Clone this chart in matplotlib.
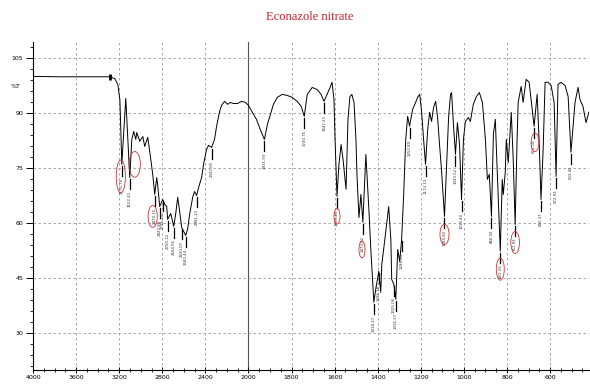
import numpy as np
import matplotlib
matplotlib.use('Agg')
import matplotlib.pyplot as plt
from matplotlib.patches import Ellipse
from matplotlib.ticker import FixedLocator, NullFormatter

# IR spectrum: wavenumber (cm-1) and %T
wavenumber = [4000, 3750, 3472, 3287, 3241, 3213, 3194, 3185, 3176, 3157,
              3139, 3120, 3102, 3083, 3065, 3046, 3037, 3009, 2981, 2963,
              2935, 2907, 2889, 2870, 2852, 2843, 2824, 2796, 2778, 2759,
              2750, 2722, 2694, 2676, 2657, 2639, 2620, 2602, 2583, 2565,
              2546, 2518, 2500, 2481, 2463, 2435, 2417, 2389, 2370, 2342,
              2315, 2296, 2268, 2250, 2222, 2194, 2167, 2139, 2102, 2065,
              2028, 2000, 1982, 1963, 1945, 1926, 1912, 1898, 1884, 1866,
              1843, 1820, 1797, 1774, 1755, 1741, 1727, 1704, 1681, 1663,
              1649, 1635, 1621, 1612, 1603, 1598, 1589, 1580, 1570, 1561,
              1547, 1538, 1529, 1520, 1510, 1501, 1496, 1487, 1478, 1469,
              1455, 1441, 1432, 1418, 1409, 1395, 1386, 1381, 1367, 1349,
              1339, 1335, 1325, 1316, 1307, 1298, 1289, 1279, 1270, 1261,
              1252, 1238, 1224, 1215, 1205, 1196, 1187, 1178, 1168, 1159,
              1150, 1141, 1131, 1122, 1113, 1104, 1090, 1081, 1071, 1062,
              1057, 1048, 1039, 1030, 1020, 1011, 1002, 993, 979, 970,
              956, 942, 928, 914, 900, 891, 882, 872, 863, 854,
              849, 840, 831, 822, 817, 808, 803, 794, 780, 771,
              762, 753, 748, 734, 725, 711, 697, 688, 674, 660,
              651, 642, 632, 623, 609, 595, 581, 572, 563, 549,
              530, 516, 503, 484, 470, 461, 447, 433, 420]
transmittance = [100.1, 100.0, 100.0, 100.0, 99.5, 97.9, 93.8, 85.6, 76.1, 85.6,
                 94.1, 82.9, 72.5, 82.9, 85.1, 82.9, 84.8, 82.4, 83.7, 81.0,
                 83.5, 77.5, 73.4, 67.9, 72.5, 70.6, 64.6, 66.5, 65.2, 64.6,
                 61.1, 62.7, 59.2, 62.5, 67.1, 63.3, 58.9, 57.8, 56.7, 58.4,
                 62.5, 67.1, 68.7, 67.6, 69.8, 72.5, 76.1, 80.2, 81.3, 80.7,
                 82.9, 86.5, 90.5, 92.2, 93.3, 92.5, 93.0, 92.7, 92.7, 93.3,
                 93.0, 92.2, 90.3, 88.4, 85.6, 82.9, 87.0, 89.7, 92.5, 94.4,
                 95.2, 94.9, 94.4, 93.3, 91.9, 89.2, 95.2, 97.1, 96.5, 95.2,
                 93.3, 95.2, 97.1, 98.5, 93.8, 82.9, 67.4, 76.1, 81.5, 77.5,
                 69.3, 88.4, 94.6, 95.2, 93.0, 82.9, 72.8, 61.6, 67.9, 60.3,
                 78.8, 63.8, 52.9, 38.5, 42.1, 46.9, 41.2, 48.8, 55.6, 64.6,
                 55.6, 44.7, 43.4, 39.3, 52.9, 49.6, 55.6, 68.5, 82.9, 89.2,
                 86.5, 91.1, 93.0, 94.4, 95.2, 90.3, 82.9, 76.1, 85.6, 90.3,
                 87.8, 91.6, 93.3, 88.9, 81.5, 74.7, 61.9, 74.7, 88.9, 95.2,
                 95.7, 86.5, 78.8, 87.5, 81.5, 66.5, 82.9, 87.8, 88.9, 87.8,
                 92.5, 94.6, 95.7, 93.0, 82.9, 72.0, 73.4, 61.9, 84.3, 88.4,
                 80.2, 66.5, 52.4, 72.0, 67.9, 73.9, 82.9, 76.6, 90.3, 77.5,
                 59.7, 82.9, 93.0, 97.4, 93.0, 99.3, 98.5, 93.8, 86.5, 95.2,
                 82.9, 66.5, 80.2, 98.5, 98.5, 97.6, 93.0, 72.8, 97.9, 98.5,
                 97.6, 94.6, 79.4, 93.0, 97.1, 93.8, 91.9, 87.5, 90.3]

# peak labels (position, %T at the dip, text)
peak_wn = [3176, 3102, 2870, 2824, 2796, 2750, 2694, 2620, 2583, 2481,
           2342, 1926, 1741, 1649, 1589, 1469, 1418, 1395, 1325, 1316,
           1289, 1252, 1178, 1090, 1039, 1011, 872, 831, 762, 674,
           642, 572, 503]
peak_t = [76.1, 72.5, 67.9, 64.6, 66.5, 61.1, 59.2, 58.9, 56.7, 67.6,
          80.7, 82.9, 89.2, 93.3, 67.4, 60.3, 38.5, 46.9, 43.4, 39.3,
          55.6, 86.5, 76.1, 61.9, 78.8, 66.5, 61.9, 52.4, 59.7, 86.5,
          66.5, 72.8, 79.4]
peak_txt = ['3176.76', '3102.41', '2870.15', '2824.88', '2796.34', '2750.12',
            '2694.56', '2620.07', '2583.44', '2481.21', '2342.65', '1931.93',
            '1740.75', '1647.21', '1589.40', '1473.62', '1418.47', '1395.18',
            '1325.06', '1316.37', '1288.45', '1252.89', '1174.13', '1089.82',
            '1043.52', '1016.40', '866.02', '831.33', '761.93', '673.18',
            '642.37', '572.91', '503.45']

# red circled labels: centre (cm-1, %T), width (cm-1), height (%T)
circle_wn = [3185, 3056, 2889, 1589, 1473, 1090, 831, 762, 670]
circle_t = [72.8, 76.1, 61.9, 61.9, 52.9, 57.0, 47.5, 54.8, 82.1]
circle_w = [85, 105, 85, 28, 28, 42, 37, 40, 36]
circle_h = [9.0, 7.0, 6.0, 4.2, 4.6, 5.5, 6.0, 6.0, 5.0]

major_x = [4000, 3600, 3200, 2800, 2400, 2000, 1800, 1600, 1400, 1200, 1000, 800, 600]
major_y = [30, 45, 60, 75, 90, 105]


def fwd(w):
    w = np.asarray(w, dtype=float)
    return np.where(w > 2000, 2000 + (w - 2000) / 2.0, w)


def inv(u):
    u = np.asarray(u, dtype=float)
    return np.where(u > 2000, 2000 + (u - 2000) * 2.0, u)


fig = plt.figure(figsize=(5.9, 3.85), dpi=100)
ax = fig.add_axes([0.056, 0.039, 0.942, 0.852])
ax.set_xscale('function', functions=(fwd, inv))
ax.set_xlim(4000, 420)
ax.set_ylim(20, 109.5)

# grid
for x in major_x:
    if x == 2000:
        ax.axvline(x, color='#555555', lw=0.8, zorder=1)
    else:
        ax.axvline(x, color='#9a9a9a', lw=0.6, ls=(0, (3, 3)), zorder=1)
for y in major_y:
    ax.axhline(y, color='#9a9a9a', lw=0.6, ls=(0, (3, 3)), zorder=1)

ax.plot(wavenumber, transmittance, color='black', lw=0.7, zorder=3)
ax.plot([3287], [100.0], marker='|', color='black', ms=5, mew=2, zorder=4)

# peak labels
for w, t, s in zip(peak_wn, peak_t, peak_txt):
    ax.plot([w, w], [t - 0.4, t - 3.2], color='black', lw=0.9, zorder=4)
    ax.text(w, t - 3.6, s, rotation=90, fontsize=2.8, ha='center', va='top',
            color='#333333', zorder=4)

for w, t, cw, ch in zip(circle_wn, circle_t, circle_w, circle_h):
    ax.add_patch(Ellipse((w, t), cw, ch, fill=False, ec='#cc3333', lw=0.6, zorder=5))

ax.spines['top'].set_visible(False)
ax.spines['right'].set_visible(False)
ax.spines['left'].set_linewidth(0.8)
ax.spines['bottom'].set_linewidth(0.8)

ax.xaxis.set_major_locator(FixedLocator(major_x))
ax.set_xticklabels([str(v) for v in major_x])
minor_x = list(range(4000, 2000, -100)) + list(range(2000, 400, -50))
ax.xaxis.set_minor_locator(FixedLocator(minor_x))
ax.xaxis.set_minor_formatter(NullFormatter())
ax.yaxis.set_major_locator(FixedLocator(major_y))
ax.yaxis.set_minor_locator(FixedLocator(list(range(21, 109, 3))))

ax.tick_params(axis='x', which='major', direction='inout', length=5, width=0.7,
               labelsize=4.5, pad=1)
ax.tick_params(axis='x', which='minor', direction='inout', length=3, width=0.6)
ax.tick_params(axis='y', which='major', direction='out', length=5, width=0.7,
               labelsize=4.5, pad=2)
ax.tick_params(axis='y', which='minor', direction='out', length=2.5, width=0.6)

ax.text(-0.022, 97.4, '%T', transform=ax.get_yaxis_transform(), fontsize=4.5,
        ha='right', va='center')

fig.text(0.525, 0.955, 'Econazole nitrate', fontsize=9, color='#c8202a',
         family='Liberation Serif', ha='center', va='center')

fig.savefig('out.png', dpi=100)
